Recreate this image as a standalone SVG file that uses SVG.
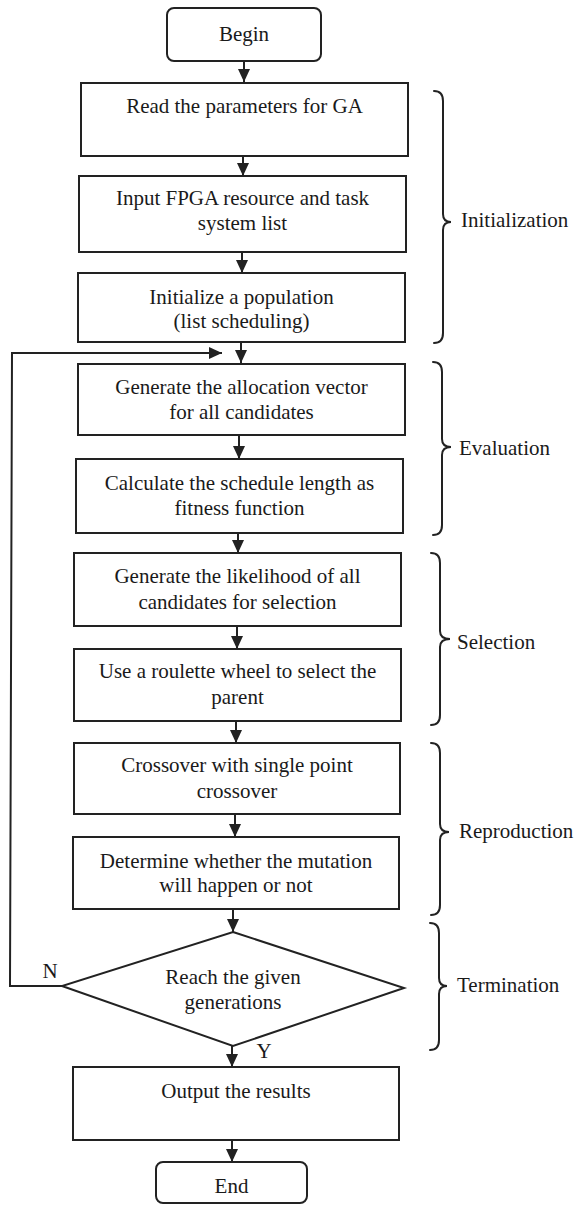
<svg xmlns="http://www.w3.org/2000/svg" width="579" height="1205" viewBox="0 0 579 1205">
<style>
.box{fill:#fff;stroke:#222;stroke-width:2}
.ln{fill:none;stroke:#222;stroke-width:2}
.br{fill:none;stroke:#222;stroke-width:2;stroke-linecap:round}
.t{font-family:"Liberation Serif","Times New Roman",serif;font-size:21px;fill:#1a1a1a;text-anchor:middle}
.l{font-family:"Liberation Serif","Times New Roman",serif;font-size:21px;fill:#1a1a1a;text-anchor:start}
</style>
<defs>
<marker id="ah" markerUnits="userSpaceOnUse" markerWidth="13" markerHeight="12" refX="13" refY="6" orient="auto">
<path d="M0,0 L13,6 L0,12 z" fill="#222"/>
</marker>
</defs>
<rect width="579" height="1205" fill="#fff"/>
<g id="connectors">
<line class="ln" x1="244" y1="61" x2="244" y2="82" marker-end="url(#ah)"/>
<line class="ln" x1="243" y1="156" x2="243" y2="176" marker-end="url(#ah)"/>
<line class="ln" x1="242" y1="252" x2="242" y2="273" marker-end="url(#ah)"/>
<line class="ln" x1="241" y1="342" x2="241" y2="363" marker-end="url(#ah)"/>
<line class="ln" x1="239" y1="435" x2="239" y2="459" marker-end="url(#ah)"/>
<line class="ln" x1="238" y1="533" x2="238" y2="553" marker-end="url(#ah)"/>
<line class="ln" x1="237" y1="626" x2="237" y2="649" marker-end="url(#ah)"/>
<line class="ln" x1="236" y1="721" x2="236" y2="743" marker-end="url(#ah)"/>
<line class="ln" x1="235" y1="814" x2="235" y2="837" marker-end="url(#ah)"/>
<line class="ln" x1="233" y1="909" x2="233" y2="932" marker-end="url(#ah)"/>
<line class="ln" x1="232" y1="1046" x2="232" y2="1067" marker-end="url(#ah)"/>
<line class="ln" x1="232" y1="1140" x2="232" y2="1162" marker-end="url(#ah)"/>
<polyline class="ln" points="62,986 10,986 12,353 222,353" marker-end="url(#ah)"/>
<text class="t" x="50" y="978">N</text>
<text class="t" x="264" y="1058">Y</text>
</g>
<g id="begin"><rect class="box" x="167" y="8" width="154" height="53" rx="7"/><text class="t" x="244" y="41">Begin</text></g>
<g id="read"><rect class="box" x="81" y="83" width="327" height="73"/><text class="t" x="244.5" y="113">Read the parameters for GA</text></g>
<g id="input"><rect class="box" x="79" y="176" width="327" height="76"/><text class="t" x="242.5" y="205">Input FPGA resource and task</text><text class="t" x="242.5" y="230">system list</text></g>
<g id="initpop"><rect class="box" x="78" y="273" width="327" height="69"/><text class="t" x="241.5" y="304">Initialize a population</text><text class="t" x="241.5" y="328">(list scheduling)</text></g>
<g id="genalloc"><rect class="box" x="78" y="364" width="327" height="71"/><text class="t" x="241.5" y="394">Generate the allocation vector</text><text class="t" x="241.5" y="419">for all candidates</text></g>
<g id="calc"><rect class="box" x="76" y="459" width="327" height="74"/><text class="t" x="239.5" y="490">Calculate the schedule length as</text><text class="t" x="239.5" y="515">fitness function</text></g>
<g id="likelihood"><rect class="box" x="74" y="553" width="327" height="73"/><text class="t" x="237.5" y="583">Generate the likelihood of all</text><text class="t" x="237.5" y="609">candidates for selection</text></g>
<g id="roulette"><rect class="box" x="74" y="649" width="327" height="72"/><text class="t" x="237.5" y="678">Use a roulette wheel to select the</text><text class="t" x="237.5" y="704">parent</text></g>
<g id="crossover"><rect class="box" x="74" y="743" width="326" height="71"/><text class="t" x="237" y="772">Crossover with single point</text><text class="t" x="237" y="798">crossover</text></g>
<g id="mutation"><rect class="box" x="73" y="837" width="326" height="72"/><text class="t" x="236" y="868">Determine whether the mutation</text><text class="t" x="236" y="892">will happen or not</text></g>
<g id="decision"><polygon class="box" points="233,932 404,988 233,1046 62,986"/><text class="t" x="233" y="984">Reach the given</text><text class="t" x="233" y="1009">generations</text></g>
<g id="output"><rect class="box" x="73" y="1067" width="326" height="73"/><text class="t" x="236" y="1098">Output the results</text></g>
<g id="end"><rect class="box" x="156" y="1162" width="151" height="41" rx="7"/><text class="t" x="231.5" y="1193">End</text></g>
<g id="brace-init"><path class="br" d="M434,91 Q443,91 443,101 L443,214 Q443,222 451,222 Q443,222 443,230 L443,333 Q443,343 434,343"/><text class="l" x="461" y="227">Initialization</text></g>
<g id="brace-eval"><path class="br" d="M433,362 Q442,362 442,372 L442,439 Q442,447 451,447 Q442,447 442,455 L442,525 Q442,535 433,535"/><text class="l" x="459" y="455">Evaluation</text></g>
<g id="brace-sel"><path class="br" d="M431,553 Q440,553 440,563 L440,631 Q440,639 450,639 Q440,639 440,647 L440,715 Q440,725 431,725"/><text class="l" x="457" y="649">Selection</text></g>
<g id="brace-rep"><path class="br" d="M431,743 Q440,743 440,753 L440,824 Q440,832 449,832 Q440,832 440,840 L440,905 Q440,915 431,915"/><text class="l" x="459" y="838">Reproduction</text></g>
<g id="brace-term"><path class="br" d="M430,923 Q439,923 439,933 L439,978 Q439,986 447,986 Q439,986 439,994 L439,1040 Q439,1050 430,1050"/><text class="l" x="457" y="992">Termination</text></g>
</svg>
